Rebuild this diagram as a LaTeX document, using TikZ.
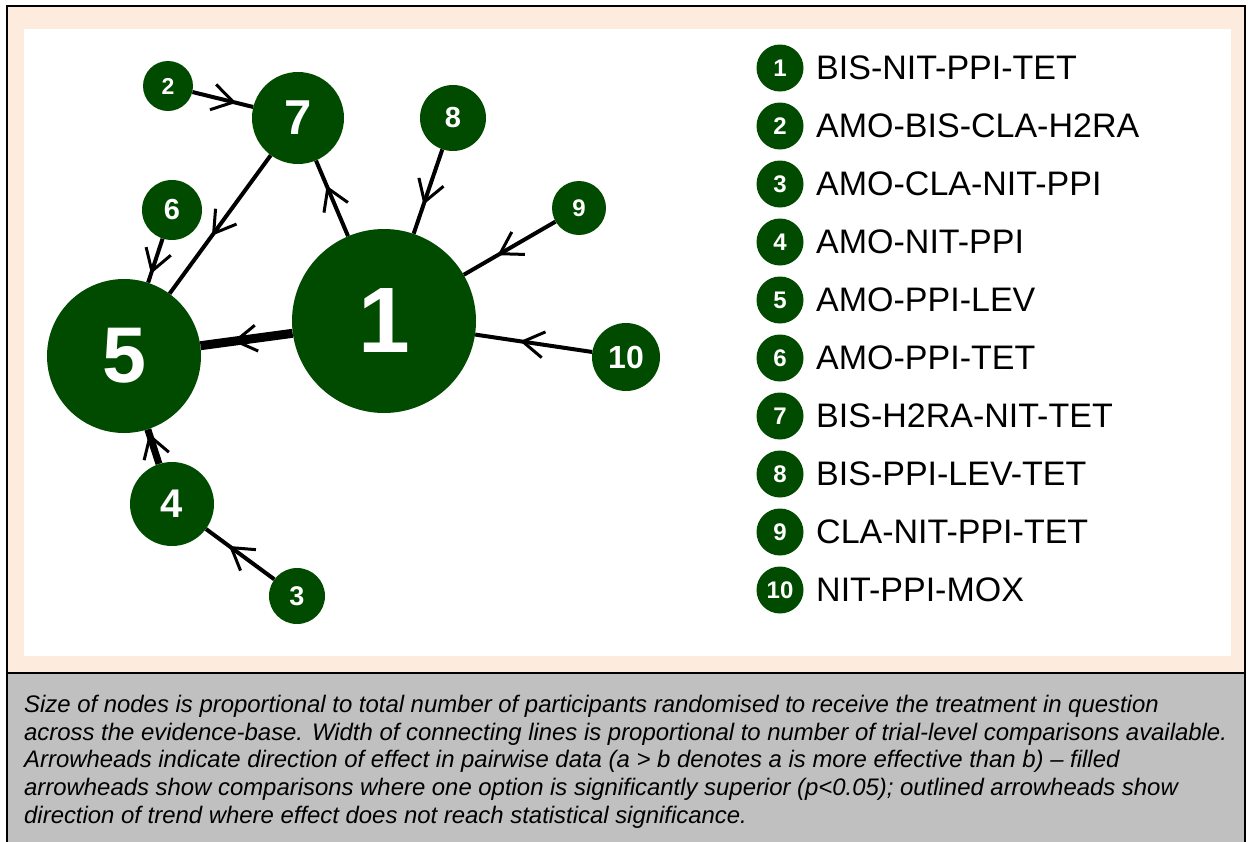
\documentclass[tikz,border=0pt]{standalone}
\usepackage{fontspec}
\setmainfont{Liberation Sans}
\usepackage{xcolor}
\usepackage{tikz}
\usetikzlibrary{arrows.meta,positioning,decorations.markings}
\definecolor{netGreen}{RGB}{0,75,0}
\definecolor{netPeach}{RGB}{253,235,221}
\definecolor{netGrey}{RGB}{192,192,192}
\newcommand{\numfont}[1]{\fontsize{#1}{#1}\selectfont\bfseries}
\tikzset{
  trt/.style={circle, fill=netGreen, text=white, inner sep=0pt},
  link/.style={line width=4pt, postaction={decorate},
    decoration={markings, mark=at position 0.5 with {\draw[line width=3pt, line join=miter] (-10pt,-13pt) -- (11pt,0pt) -- (-10pt,13pt);}}},
}

\begin{document}
\begin{tikzpicture}[x=1pt,y=-1pt]
\useasboundingbox (0,0) rectangle (1248,841);
% frame
\fill[netPeach] (7,6) rectangle (1245,673);
\fill[netGrey] (7,673) rectangle (1245,845);
\fill[white] (24,29) rectangle (1231,656);
\draw[line width=1.5pt] (7,673)--(1245,673);
\draw[line width=2.5pt] (7,850)--(7,6)--(1245,6)--(1245,850);
% network
\node[trt, minimum size=184pt, font={\numfont{93}}] (n1) at (384,321) {1};
\node[trt, minimum size=50pt, font={\numfont{23}}] (n2) at (168,86) {2};
\node[trt, minimum size=56pt, font={\numfont{27}}] (n3) at (297,596) {3};
\node[trt, minimum size=84pt, font={\numfont{40}}] (n4) at (172,504) {4};
\node[trt, minimum size=154pt, font={\numfont{79}}] (n5) at (124,356) {5};
\node[trt, minimum size=60pt, font={\numfont{29}}] (n6) at (172,210) {6};
\node[trt, minimum size=92pt, font={\numfont{49}}] (n7) at (298,118) {7};
\node[trt, minimum size=66pt, font={\numfont{29}}] (n8) at (453,118) {8};
\node[trt, minimum size=54pt, font={\numfont{24}}] (n9) at (579,208) {9};
\node[trt, minimum size=68pt, font={\numfont{32}}] (n10) at (626,357) {10};
\draw[link] (n2)--(n7);
\draw[link] (n7)--(n5);
\draw[link] (n1)--(n7);
\draw[link] (n6)--(n5);
\draw[link, line width=9pt] (n1)--(n5);
\draw[link, line width=7pt] (n4)--(n5);
\draw[link] (n3)--(n4);
\draw[link] (n8)--(n1);
\draw[link] (n9)--(n1);
\draw[link] (n10)--(n1);
% legend
\foreach \i/\name in {1/BIS-NIT-PPI-TET, 2/AMO-BIS-CLA-H2RA, 3/AMO-CLA-NIT-PPI,
  4/AMO-NIT-PPI, 5/AMO-PPI-LEV, 6/AMO-PPI-TET, 7/BIS-H2RA-NIT-TET,
  8/BIS-PPI-LEV-TET, 9/CLA-NIT-PPI-TET, 10/NIT-PPI-MOX} {
  \node[trt, minimum size=47pt, font={\numfont{24}}] (key\i) at (780,{68+58*(\i-1)}) {\i};
  \node[anchor=west, inner sep=0pt, font={\fontsize{34}{34}\selectfont}] (keytext\i) at (816,{68+58*(\i-1)}) {\name};
}
% caption
\node[anchor=base west, inner sep=0pt, align=left, font={\fontsize{23.9}{27.6}\selectfont\itshape}] (caption) at (24,823)
{Size of nodes is proportional to total number of participants randomised to receive the treatment in question\\
across the evidence-base. Width of connecting lines is proportional to number of trial-level comparisons available.\\
Arrowheads indicate direction of effect in pairwise data (a > b denotes a is more effective than b) -- filled\\
arrowheads show comparisons where one option is significantly superior (p<0.05); outlined arrowheads show\\
direction of trend where effect does not reach statistical significance.};
\end{tikzpicture}
\end{document}
